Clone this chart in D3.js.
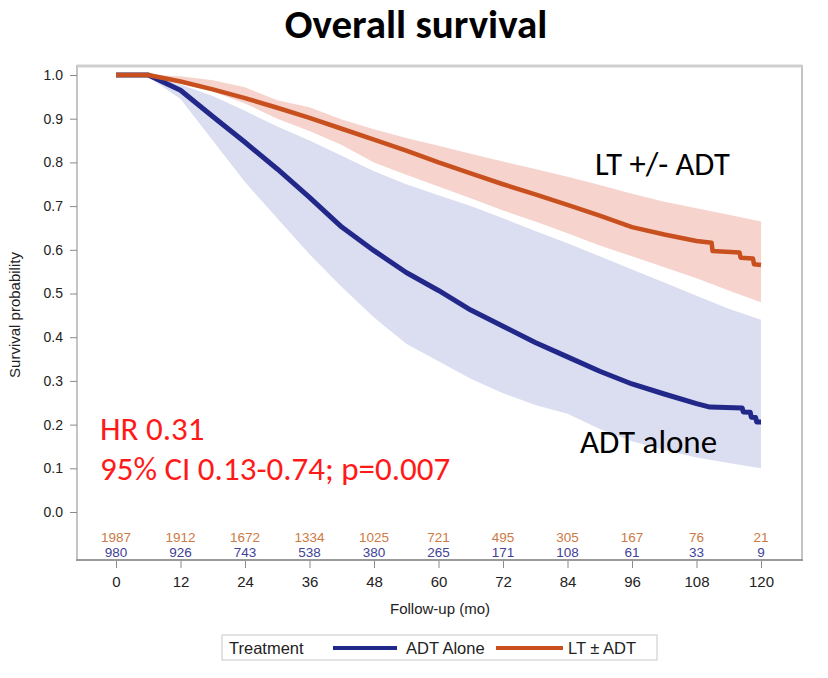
<!DOCTYPE html>
<html>
<head>
<meta charset="utf-8">
<script src="https://cdn.jsdelivr.net/npm/d3@7"></script>
<style>
  body { margin: 0; background: #fff; }
  svg { display: block; }
</style>
</head>
<body>
<div id="chart"></div>
<script>
// Overall survival - Kaplan-Meier curves with 95% CI bands

// month grid used for the confidence bands
const ciMonths = [0, 6, 12, 18, 24, 30, 36, 42, 48, 54, 60, 66, 72, 78, 84, 90, 96, 102, 108, 114, 120];

const ltUpper  = [1, 1, 0.997, 0.988, 0.972, 0.942, 0.926, 0.898, 0.876, 0.856, 0.838, 0.82, 0.802, 0.785, 0.767, 0.748, 0.728, 0.71, 0.695, 0.68, 0.665];
const ltLower  = [1, 0.999, 0.982, 0.962, 0.935, 0.9, 0.872, 0.84, 0.8, 0.772, 0.745, 0.718, 0.69, 0.665, 0.638, 0.61, 0.585, 0.56, 0.535, 0.507, 0.48];
const adtUpper = [1, 0.998, 0.978, 0.952, 0.918, 0.882, 0.85, 0.815, 0.78, 0.75, 0.725, 0.7, 0.672, 0.643, 0.615, 0.585, 0.555, 0.525, 0.495, 0.465, 0.44];
const adtLower = [1, 0.996, 0.945, 0.85, 0.755, 0.672, 0.59, 0.515, 0.445, 0.385, 0.345, 0.305, 0.272, 0.245, 0.225, 0.19, 0.162, 0.142, 0.125, 0.112, 0.1];

// survival estimates (extra points near the end keep the visible steps)
const ltMonths = [0, 6, 12, 18, 24, 30, 36, 42, 48, 54, 60, 66, 72, 78, 84, 90, 96, 102, 108, 110.8, 111, 116, 116.2, 118.5, 118.7, 120];
const ltSurv   = [1, 1, 0.985, 0.967, 0.947, 0.925, 0.902, 0.877, 0.852, 0.827, 0.8, 0.775, 0.75, 0.727, 0.703, 0.678, 0.652, 0.635, 0.62, 0.616, 0.597, 0.594, 0.582, 0.58, 0.567, 0.565];
const adtMonths = [0, 6, 12, 18, 24, 30, 36, 42, 48, 54, 60, 66, 72, 78, 84, 90, 96, 102, 108, 110.5, 116.5, 116.7, 118, 118.2, 119, 119.2, 120];
const adtSurv   = [1, 1, 0.965, 0.905, 0.846, 0.785, 0.72, 0.652, 0.598, 0.548, 0.507, 0.462, 0.425, 0.388, 0.355, 0.322, 0.293, 0.27, 0.248, 0.24, 0.238, 0.229, 0.228, 0.217, 0.216, 0.206, 0.206];

// numbers at risk
const riskMonths = [0, 12, 24, 36, 48, 60, 72, 84, 96, 108, 120];
const ltAtRisk  = [1987, 1912, 1672, 1334, 1025, 721, 495, 305, 167, 76, 21];
const adtAtRisk = [980, 926, 743, 538, 380, 265, 171, 108, 61, 33, 9];

const yTicks = [0, 0.1, 0.2, 0.3, 0.4, 0.5, 0.6, 0.7, 0.8, 0.9, 1.0];

const colorLT = "#c8501e";
const colorADT = "#22288a";
const bandLT = "#f6d3cd";
const bandADT = "#dbdef0";

const width = 828;
const height = 678;
const frame = { left: 77, right: 802, top: 66, bottom: 560 };

const axisFont = "'Liberation Sans', Arial, sans-serif";
const annoFont = "Calibri, 'Open Sans', sans-serif";

const svg = d3.select("#chart")
  .append("svg")
  .attr("width", width)
  .attr("height", height);

const x = d3.scaleLinear().domain([0, 120]).range([116, 761]);
const y = d3.scaleLinear().domain([0, 1]).range([512, 75]);

// title
svg.append("text")
  .attr("x", 416)
  .attr("y", 38)
  .attr("text-anchor", "middle")
  .style("font-family", annoFont)
  .style("font-weight", "700")
  .style("font-size", "41px")
  .text("Overall survival");

// frame
svg.append("rect")
  .attr("x", frame.left)
  .attr("y", frame.top)
  .attr("width", frame.right - frame.left)
  .attr("height", frame.bottom - frame.top)
  .attr("fill", "none")
  .attr("stroke", "#c4c4c4")
  .attr("stroke-width", 2);

svg.append("line")
  .attr("x1", frame.left)
  .attr("x2", frame.right)
  .attr("y1", frame.top)
  .attr("y2", frame.top)
  .attr("stroke", "#cfcfcf")
  .attr("stroke-width", 3);

svg.append("line")
  .attr("x1", frame.left - 1)
  .attr("x2", frame.right + 1)
  .attr("y1", frame.bottom)
  .attr("y2", frame.bottom)
  .attr("stroke", "#9a9a9a")
  .attr("stroke-width", 2);

// bands
const bandData = ciMonths.map((m, i) => ({
  m, ltHi: ltUpper[i], ltLo: ltLower[i], adtHi: adtUpper[i], adtLo: adtLower[i]
}));

svg.append("path")
  .datum(bandData)
  .attr("fill", bandADT)
  .attr("d", d3.area().x(d => x(d.m)).y0(d => y(d.adtLo)).y1(d => y(d.adtHi)));

svg.append("path")
  .datum(bandData)
  .attr("fill", bandLT)
  .attr("d", d3.area().x(d => x(d.m)).y0(d => y(d.ltLo)).y1(d => y(d.ltHi)));

// survival lines
const line = d3.line().x(d => x(d[0])).y(d => y(d[1]));

svg.append("path")
  .datum(d3.zip(adtMonths, adtSurv))
  .attr("fill", "none")
  .attr("stroke", colorADT)
  .attr("stroke-width", 5)
  .attr("stroke-linejoin", "round")
  .attr("d", line);

svg.append("path")
  .datum(d3.zip(ltMonths, ltSurv))
  .attr("fill", "none")
  .attr("stroke", colorLT)
  .attr("stroke-width", 4.5)
  .attr("stroke-linejoin", "round")
  .attr("d", line);

// y axis
const yAxis = svg.append("g")
  .attr("transform", `translate(${frame.left},0)`)
  .call(d3.axisLeft(y).tickValues(yTicks).tickFormat(d3.format(".1f")).tickSize(7).tickPadding(7));
yAxis.select(".domain").remove();
yAxis.selectAll(".tick line").attr("stroke", "#8a8a8a");
yAxis.selectAll(".tick text")
  .style("font-family", axisFont)
  .style("font-size", "14px")
  .attr("fill", "#222");

svg.append("text")
  .attr("transform", "translate(20,315) rotate(-90)")
  .attr("text-anchor", "middle")
  .style("font-family", axisFont)
  .style("font-size", "15px")
  .attr("fill", "#222")
  .text("Survival probability");

// x axis
const xAxis = svg.append("g")
  .attr("transform", `translate(0,${frame.bottom + 1})`)
  .call(d3.axisBottom(x).tickValues(riskMonths).tickSize(7).tickPadding(8));
xAxis.select(".domain").remove();
xAxis.selectAll(".tick line").attr("stroke", "#8a8a8a");
xAxis.selectAll(".tick text")
  .style("font-family", axisFont)
  .style("font-size", "15px")
  .attr("fill", "#222");

svg.append("text")
  .attr("x", 440)
  .attr("y", 614)
  .attr("text-anchor", "middle")
  .style("font-family", axisFont)
  .style("font-size", "15px")
  .attr("fill", "#222")
  .text("Follow-up (mo)");

// numbers at risk
svg.selectAll(".risk-lt")
  .data(riskMonths)
  .join("text")
  .attr("class", "risk-lt")
  .attr("x", d => x(d))
  .attr("y", 542)
  .attr("text-anchor", "middle")
  .style("font-family", axisFont)
  .style("font-size", "13.5px")
  .attr("fill", "#cc7a45")
  .text((d, i) => ltAtRisk[i]);

svg.selectAll(".risk-adt")
  .data(riskMonths)
  .join("text")
  .attr("class", "risk-adt")
  .attr("x", d => x(d))
  .attr("y", 557)
  .attr("text-anchor", "middle")
  .style("font-family", axisFont)
  .style("font-size", "13.5px")
  .attr("fill", "#3f4196")
  .text((d, i) => adtAtRisk[i]);

// annotations
svg.append("text")
  .attr("x", 595)
  .attr("y", 175)
  .style("font-family", annoFont)
  .style("font-size", "32.5px")
  .attr("fill", "#000")
  .text("LT +/- ADT");

svg.append("text")
  .attr("x", 580)
  .attr("y", 453)
  .style("font-family", annoFont)
  .style("font-size", "33px")
  .attr("fill", "#000")
  .text("ADT alone");

svg.append("text")
  .attr("x", 100)
  .attr("y", 440)
  .style("font-family", annoFont)
  .style("font-size", "33px")
  .attr("fill", "#ff1a1a")
  .text("HR 0.31");

svg.append("text")
  .attr("x", 100)
  .attr("y", 480)
  .style("font-family", annoFont)
  .style("font-size", "33px")
  .attr("fill", "#ff1a1a")
  .text("95% CI 0.13-0.74; p=0.007");

// legend
const legend = svg.append("g").attr("transform", "translate(222,635)");

legend.append("rect")
  .attr("width", 435)
  .attr("height", 25)
  .attr("fill", "#fff")
  .attr("stroke", "#c8c8c8");

legend.append("text")
  .attr("x", 7).attr("y", 19)
  .style("font-family", axisFont).style("font-size", "16.5px").attr("fill", "#222")
  .text("Treatment");

legend.append("line")
  .attr("x1", 111).attr("x2", 175).attr("y1", 13).attr("y2", 13)
  .attr("stroke", colorADT).attr("stroke-width", 4);

legend.append("text")
  .attr("x", 184).attr("y", 19)
  .style("font-family", axisFont).style("font-size", "16.5px").attr("fill", "#222")
  .text("ADT Alone");

legend.append("line")
  .attr("x1", 274).attr("x2", 341).attr("y1", 13).attr("y2", 13)
  .attr("stroke", colorLT).attr("stroke-width", 4);

legend.append("text")
  .attr("x", 346).attr("y", 19)
  .style("font-family", axisFont).style("font-size", "16.5px").attr("fill", "#222")
  .text("LT \u00B1 ADT");
</script>
</body>
</html>
